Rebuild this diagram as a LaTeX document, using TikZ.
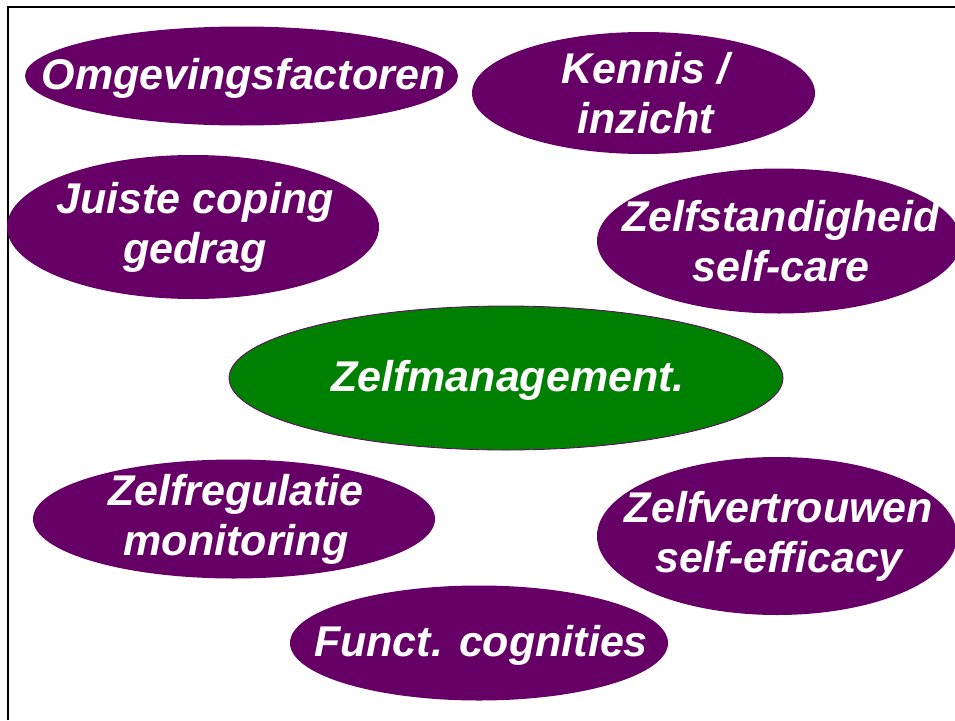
\documentclass[tikz,border=0pt]{standalone}
\usepackage{fontspec}
\setmainfont{Liberation Sans}
\usetikzlibrary{shapes.geometric}
\definecolor{plum}{HTML}{660066}
\definecolor{zgreen}{HTML}{008000}
\tikzset{
  bubble/.style={ellipse, fill=plum, draw=none, inner sep=0pt, outer sep=0pt},
  core/.style={bubble, fill=zgreen, draw=plum, line width=0.8pt},
  label/.style={inner sep=0pt, text=white, align=center, xshift=2pt,
    font=\fontsize{43}{50}\selectfont\bfseries\itshape}
}
\begin{document}
\begin{tikzpicture}[x=1pt,y=-1pt]
\useasboundingbox (0,0) rectangle (955,720);
\clip (0,0) rectangle (955,720);
\fill[white] (0,0) rectangle (955,720);
\draw[line width=2pt, black] (8,720) -- (8,7) -- (956,7);
\node[bubble, minimum width=433pt, minimum height=99pt] (omg) at (241.5,76) {};
\node[label, yshift=-2pt] (omgT) at (omg.center) {Omgevingsfactoren};
\node[bubble, minimum width=343pt, minimum height=122pt] (ken) at (643.5,93) {};
\node[label] (kenT) at (ken.center) {Kennis /\\inzicht};
\node[bubble, minimum width=372pt, minimum height=144pt] (jui) at (193,227) {};
\node[label] (juiT) at (jui.center) {Juiste coping\\gedrag};
\node[bubble, minimum width=364pt, minimum height=145pt] (zst) at (779,241) {};
\node[label] (zstT) at (zst.center) {Zelfstandigheid\\self-care};
\node[core, minimum width=554pt, minimum height=144pt] (zm) at (506,378) {};
\node[label, yshift=-2pt] (zmT) at (zm.center) {Zelfmanagement.};
\node[bubble, minimum width=402pt, minimum height=119pt] (zr) at (234,519) {};
\node[label] (zrT) at (zr.center) {Zelfregulatie\\monitoring};
\node[bubble, minimum width=360pt, minimum height=158pt] (zv) at (777,536) {};
\node[label] (zvT) at (zv.center) {Zelfvertrouwen\\self-efficacy};
\node[bubble, minimum width=378pt, minimum height=115pt] (fc) at (479,643) {};
\node[label, yshift=-2pt] (fcT) at (fc.center) {Funct. cognities};
\end{tikzpicture}
\end{document}
